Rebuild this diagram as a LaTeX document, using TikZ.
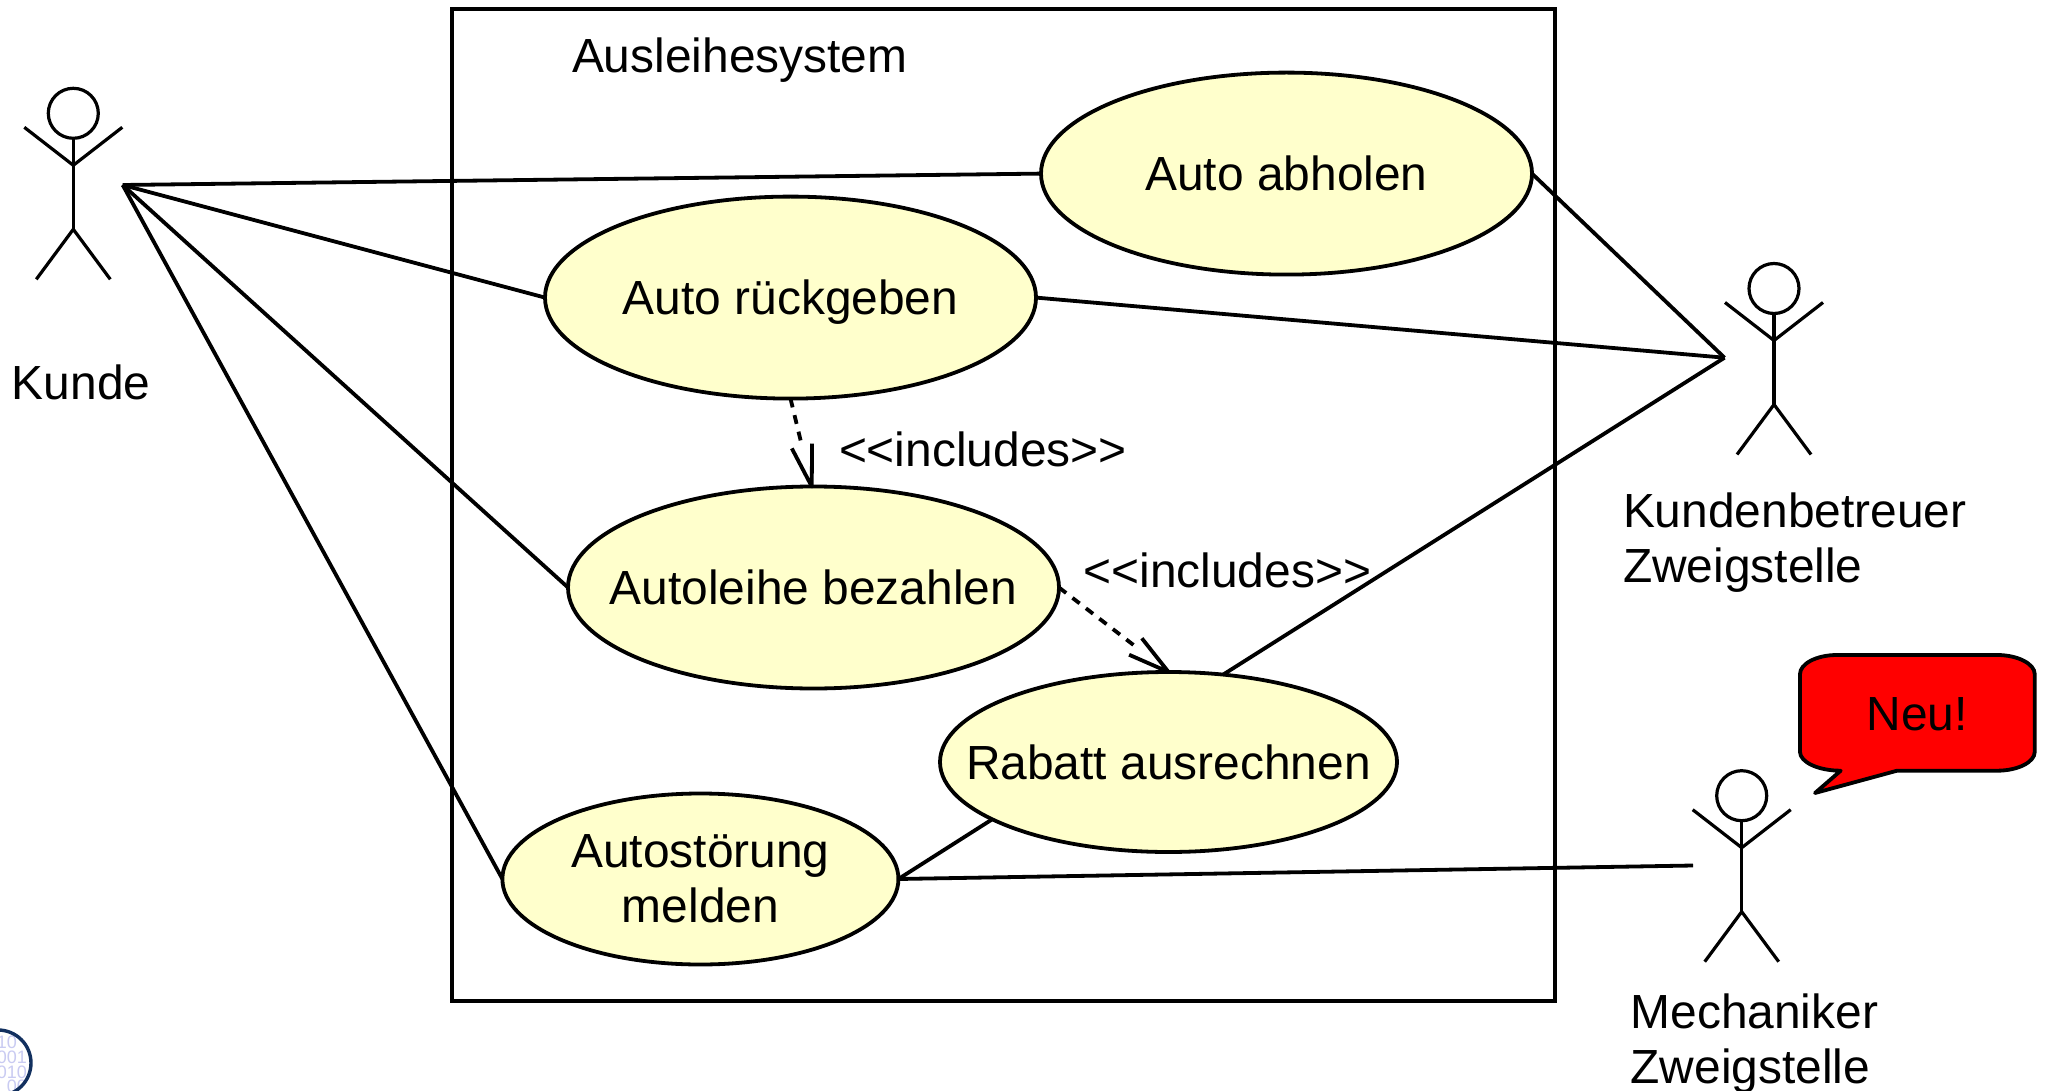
\documentclass[tikz,border=0pt]{standalone}
\usepackage{fontspec}
\setmainfont{Liberation Sans}
\usetikzlibrary{shapes.geometric,calc}
\definecolor{ucfill}{HTML}{FFFFCC}
\definecolor{logoblue}{HTML}{12305F}
\definecolor{logodigit}{HTML}{C9CBF2}
\tikzset{
  x=1pt,y=-1pt,
  every node/.style={inner sep=0pt,outer sep=0pt,font=\fontsize{47.9}{55}\selectfont},
  usecase/.style={ellipse,draw=black,fill=ucfill,line width=3.8pt},
  uctext/.style={text height=34.2pt,text depth=0pt},
  assoc/.style={draw=black,line width=3.8pt},
  incl/.style={draw=black,line width=3.8pt,dash pattern=on 9pt off 8pt,shorten >=42pt},
  barb/.style={draw=black,line width=3.8pt,line join=round},
  plainlabel/.style={anchor=west,align=left},
  digits/.style={anchor=east,font=\fontsize{18}{18}\selectfont,text=logodigit},
  pics/stickman/.style={code={
    \draw[line width=3.2pt] (0,0) circle[radius=25];
    \draw[line width=3.2pt] (0,25) -- (0,116);
    \draw[line width=3.2pt] (-49,14) -- (0,52) -- (49,14);
    \draw[line width=3.2pt] (-37,166) -- (0,116) -- (37,166);
  }}
}
\begin{document}
\begin{tikzpicture}
\useasboundingbox (0,0) rectangle (2047,1091);
\fill[white] (0,0) rectangle (2047,1091);
% logo
\begin{scope}
\clip (0,0) rectangle (2047,1091);
\begin{scope}
\clip (-2,1063) circle[radius=33];
\node[digits] (d1) at (17,1042) {10};
\node[digits] (d2) at (27,1057) {001};
\node[digits] (d3) at (27,1072) {010};
\node[digits] (d4) at (27,1086) {00};
\end{scope}
\draw[logoblue,line width=3.4pt] (-2,1063) circle[radius=33];
\end{scope}
% system frame
\node[draw=black,line width=3.8pt,minimum width=1103.5pt,minimum height=992pt,anchor=north west] (sys) at (451.7,9) {};
\node[plainlabel] (systitle) at (572,60.5) {Ausleihesystem};
% use cases
\node[usecase,minimum width=491pt,minimum height=202pt,label={[uctext]center:Auto abholen}] (ab) at (1286.5,173.6) {};
\node[usecase,minimum width=491pt,minimum height=202pt,label={[uctext]center:Auto rückgeben}] (rg) at (790.5,297.6) {};
\node[usecase,minimum width=491pt,minimum height=202pt,label={[uctext]center:Autoleihe bezahlen}] (lb) at (813.5,587.5) {};
\node[usecase,minimum width=457pt,minimum height=180pt,label={[uctext]center:Rabatt ausrechnen}] (ra) at (1168.5,762) {};
\node[usecase,minimum width=396pt,minimum height=171pt,label={[align=center]center:Autostörung\\melden}] (st) at (700.4,879) {};
% actors
\pic at (73.3,113.3) {stickman};
\pic at (1774,288.5) {stickman};
\pic at (1741.7,795.7) {stickman};
\coordinate (k1) at (122.7,185);
\coordinate (k2) at (1724.5,357.7);
\coordinate (k3) at (1693,865.5);
\node[plainlabel] (kunde) at (12,382.5) {Kunde};
\node[plainlabel] (kb) at (1623,543) {Kundenbetreuer\\Zweigstelle};
\node[plainlabel] (me) at (1630.5,1043.5) {Mechaniker\\Zweigstelle};
% associations
\draw[assoc] (k1) -- (ab.west);
\draw[assoc] (k1) -- (rg.west);
\draw[assoc] (k1) -- (lb.west);
\draw[assoc] (k1) -- (st.west);
\draw[assoc] (ab.east) -- (k2);
\draw[assoc] (rg.east) -- (k2);
\draw[assoc] (ra.58) -- (k2);
\draw[assoc] (st.east) -- (ra.198);
\draw[assoc] (st.east) -- (k3);
% includes
\draw[incl] (rg.south) -- (lb.91);
\draw[barb] ($(lb.91)!43pt!14:(rg.south)$) -- (lb.91) -- ($(lb.91)!43pt!-14:(rg.south)$);
\draw[incl] (lb.east) -- (ra.north);
\draw[barb] ($(ra.north)!43pt!14:(lb.east)$) -- (ra.north) -- ($(ra.north)!43pt!-14:(lb.east)$);
\node[plainlabel] (inc1) at (839,449) {<{}<includes>{}>};
\node[plainlabel] (inc2) at (1083.5,570.5) {<{}<includes>{}>};
% callout
\draw[black,fill=red,line width=3.8pt,line join=round]
  (1837,655) -- (1997,655)
  .. controls (2018,655) and (2034.7,664) .. (2034.7,674)
  -- (2034.7,752)
  .. controls (2034.7,762) and (2018,770.7) .. (1997,770.7)
  -- (1897,770.7) -- (1815,793) -- (1840.7,770.7)
  .. controls (1818,770.7) and (1800,762) .. (1800,752)
  -- (1800,674)
  .. controls (1800,664) and (1816,655) .. (1837,655) -- cycle;
\node (neu) at (1917,714) {Neu!};
\end{tikzpicture}
\end{document}
